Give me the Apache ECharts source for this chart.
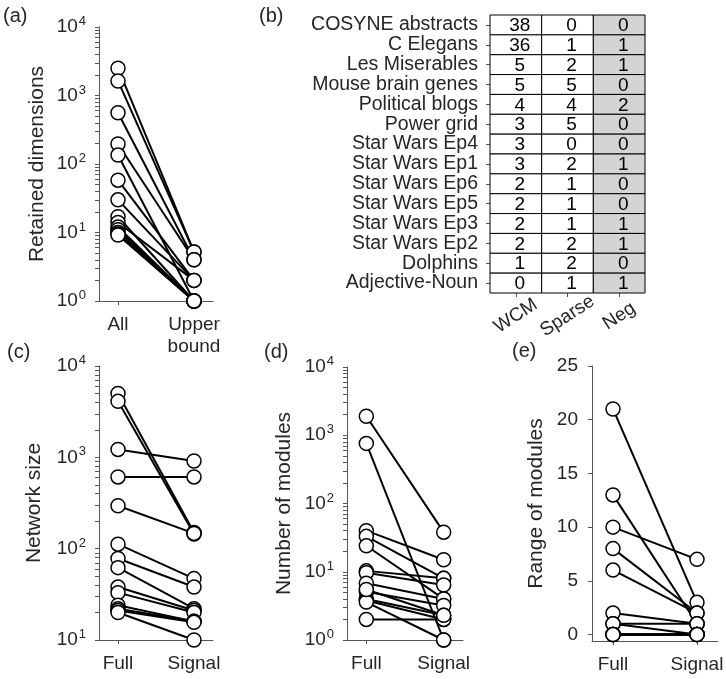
<!DOCTYPE html>
<html>
<head>
<meta charset="utf-8">
<title>Retained dimensions and modules</title>
<script src="https://cdn.jsdelivr.net/npm/echarts@6/dist/echarts.min.js"></script>
<style>
  html, body { margin: 0; padding: 0; background: #fff; }
  #main { width: 726px; height: 679px; }
</style>
</head>
<body>
<div id="main"></div>
<script>
// (a) retained dimensions, all vs upper bound
var allDims = [2500, 1630, 560, 196, 135, 58, 30, 17, 14, 12, 11, 10, 9.5, 9.2];
var upperDims = [5.2, 5.2, 4, 4, 1, 2, 2, 1, 2, 1, 1, 1, 1, 1];

// (b) table
var networks = ['COSYNE abstracts', 'C Elegans', 'Les Miserables', 'Mouse brain genes',
  'Political blogs', 'Power grid', 'Star Wars Ep4', 'Star Wars Ep1', 'Star Wars Ep6',
  'Star Wars Ep5', 'Star Wars Ep3', 'Star Wars Ep2', 'Dolphins', 'Adjective-Noun'];
var tableCols = ['WCM', 'Sparse', 'Neg'];
var wcm = [38, 36, 5, 5, 4, 3, 3, 3, 2, 2, 2, 2, 1, 0];
var sparse = [0, 1, 2, 5, 4, 5, 0, 2, 1, 1, 1, 2, 2, 1];
var neg = [0, 1, 1, 0, 2, 0, 0, 1, 0, 0, 1, 1, 0, 1];

// (c) network size
var fullSize = [5000, 4100, 1220, 610, 295, 112, 78, 62, 38, 33, 24, 22, 21, 20];
var signalSize = [150, 145, 912, 610, 147, 47, 38, 22, 21, 20, 16, 16, 15.6, 10];

// (d) number of modules
var fullMods = [1900, 760, 40, 33, 24, 10.3, 9.7, 6.8, 5.1, 4.0, 3.8, 3.6, 2.0, 5.5];
var signalMods = [38, 1, 15, 8, 4, 8, 6.4, 4, 3.2, 2.3, 2, 1, 2, 2.3];

// (e) range of modules
var fullRange = [21, 13, 10, 8, 6, 2, 1, 1, 0, 0, 0, 0, 0, 0];
var signalRange = [3, 1, 7, 2, 2, 1, 1, 0, 0, 0, 0, 0, 0, 0];

var catsA = ['All', 'Upper\nbound'];
var catsFS = ['Full', 'Signal'];
var decadesA = [1, 10, 100, 1000, 10000];
var decadesC = [10, 100, 1000, 10000];
var rangeTicks = [0, 5, 10, 15, 20, 25];

var FONT = 'Liberation Sans, Arial, Helvetica, sans-serif';
var TXT = '#262626';
var AX = '#555';

function minorTicks(decades) {
  var out = [];
  for (var i = 0; i < decades.length; i++) {
    out.push(decades[i]);
    if (i < decades.length - 1) {
      for (var k = 2; k <= 9; k++) out.push(decades[i] * k);
    }
  }
  return out;
}

function powLabel(v) {
  var e = Math.round(Math.log(v) / Math.LN10);
  return '{b|10}{e|' + e + '}';
}

var powRich = {
  b: { fontSize: 19, color: TXT, fontFamily: FONT },
  e: { fontSize: 13, color: TXT, fontFamily: FONT, padding: [0, 0, 11, 1] }
};

var grids = [
  { left: 99, top: 27, width: 114, height: 274 },   // a
  { left: 490, top: 15, width: 155, height: 278 },  // b
  { left: 99, top: 366, width: 114, height: 274 },  // c
  { left: 347, top: 367, width: 116, height: 273 }, // d
  { left: 592, top: 366, width: 126, height: 275 }  // e
];
grids.forEach(function (g) { g.outerBoundsMode = 'none'; g.containLabel = false; });

function pairX(idx, cats) {
  return {
    type: 'value', gridIndex: idx, min: -0.25, max: 1.25,
    axisLine: { show: true, onZero: false, lineStyle: { color: AX, width: 1 } },
    axisTick: { show: true, customValues: [0, 1], length: 4, lineStyle: { color: AX } },
    axisLabel: {
      customValues: [0, 1], margin: 13, color: TXT, fontSize: 19, fontFamily: FONT,
      lineHeight: 22,
      formatter: function (v) { return cats[Math.round(v)]; }
    },
    splitLine: { show: false }
  };
}

function yName(name, gap) {
  return {
    name: name, nameLocation: 'middle', nameRotate: 90, nameGap: gap,
    nameTextStyle: { color: TXT, fontSize: 21, fontFamily: FONT }
  };
}

function logY(idx, min, max, decades, name, gap) {
  return Object.assign({
    type: 'log', logBase: 10, gridIndex: idx, min: min, max: max,
    axisLine: { show: true, onZero: false, lineStyle: { color: AX, width: 1 } },
    axisTick: { show: true, customValues: minorTicks(decades), length: 4, lineStyle: { color: AX } },
    axisLabel: {
      customValues: decades, margin: 13, formatter: powLabel, rich: powRich
    },
    splitLine: { show: false }
  }, yName(name, gap));
}

function pairSeries(idx, full, signal) {
  var out = [];
  for (var i = 0; i < full.length; i++) {
    out.push({
      type: 'line', xAxisIndex: idx, yAxisIndex: idx,
      data: [[0, full[i]], [1, signal[i]]],
      symbol: 'none', silent: true,
      lineStyle: { color: '#000', width: 2 }
    });
  }
  out.push({
    type: 'scatter', xAxisIndex: idx, yAxisIndex: idx, z: 5,
    data: full.map(function (v) { return [0, v]; }).concat(signal.map(function (v) { return [1, v]; })),
    symbol: 'circle', symbolSize: 14,
    itemStyle: { color: '#fff', borderColor: '#000', borderWidth: 1.5, opacity: 1 }
  });
  return out;
}

var tableData = [];
networks.forEach(function (n, r) {
  tableData.push([0, r, wcm[r]]);
  tableData.push([1, r, sparse[r]]);
  tableData.push([2, r, neg[r]]);
});

var series = []
  .concat(pairSeries(0, allDims, upperDims))
  .concat(pairSeries(2, fullSize, signalSize))
  .concat(pairSeries(3, fullMods, signalMods))
  .concat(pairSeries(4, fullRange, signalRange));

series.push({
  type: 'custom', xAxisIndex: 1, yAxisIndex: 1, data: tableData,
  renderItem: function (params, api) {
    var col = api.value(0);
    var c = api.coord([col, api.value(1)]);
    var s = api.size([1, 1]);
    return {
      type: 'group',
      children: [
        {
          type: 'rect',
          shape: { x: c[0] - s[0] / 2, y: c[1] - s[1] / 2, width: s[0], height: s[1] },
          style: { fill: col === 2 ? '#d4d4d4' : '#fff', stroke: '#000', lineWidth: 1 }
        },
        {
          type: 'text',
          style: {
            text: String(api.value(2)), x: c[0] + 4, y: c[1] + 1,
            align: 'center', verticalAlign: 'middle',
            fontSize: 19, fontFamily: FONT, fill: '#000'
          }
        }
      ]
    };
  }
});

var option = {
  animation: false,
  backgroundColor: '#fff',
  textStyle: { fontFamily: FONT },
  grid: grids,
  xAxis: [
    pairX(0, catsA),
    {
      type: 'category', gridIndex: 1, data: tableCols, position: 'bottom',
      axisLine: { show: false },
      axisTick: { show: true, alignWithLabel: true, length: 4, lineStyle: { color: AX } },
      axisLabel: {
        interval: 0, rotate: 33, margin: 23, align: 'center', verticalAlign: 'middle',
        color: TXT, fontSize: 19, fontFamily: FONT
      }
    },
    pairX(2, catsFS),
    pairX(3, catsFS),
    pairX(4, catsFS)
  ],
  yAxis: [
    logY(0, 1, 10000, decadesA, 'Retained dimensions', 51),
    {
      type: 'category', gridIndex: 1, data: networks, inverse: true,
      axisLine: { show: false },
      axisTick: { show: true, alignWithLabel: true, length: 4, lineStyle: { color: AX } },
      axisLabel: { interval: 0, margin: 12, color: TXT, fontSize: 19.5, fontFamily: FONT }
    },
    logY(2, 10, 10000, decadesC, 'Network size', 54),
    logY(3, 1, 10000, decadesA, 'Number of modules', 52),
    Object.assign({
      type: 'value', gridIndex: 4, min: -0.6, max: 25,
      axisLine: { show: true, onZero: false, lineStyle: { color: AX, width: 1 } },
      axisTick: { show: true, customValues: rangeTicks, length: 4, lineStyle: { color: AX } },
      axisLabel: { customValues: rangeTicks, margin: 14, color: TXT, fontSize: 19, fontFamily: FONT },
      splitLine: { show: false }
    }, yName('Range of modules', 45))
  ],
  graphic: [
    { type: 'text', left: 3, top: 6, style: { text: '(a)', fontSize: 20, fontFamily: FONT, fill: TXT } },
    { type: 'text', left: 259, top: 6, style: { text: '(b)', fontSize: 20, fontFamily: FONT, fill: TXT } },
    { type: 'text', left: 7, top: 342, style: { text: '(c)', fontSize: 20, fontFamily: FONT, fill: TXT } },
    { type: 'text', left: 264, top: 342, style: { text: '(d)', fontSize: 20, fontFamily: FONT, fill: TXT } },
    { type: 'text', left: 512, top: 341, style: { text: '(e)', fontSize: 20, fontFamily: FONT, fill: TXT } }
  ],
  series: series
};

var chart = echarts.init(document.getElementById('main'));
chart.setOption(option);
</script>
</body>
</html>
